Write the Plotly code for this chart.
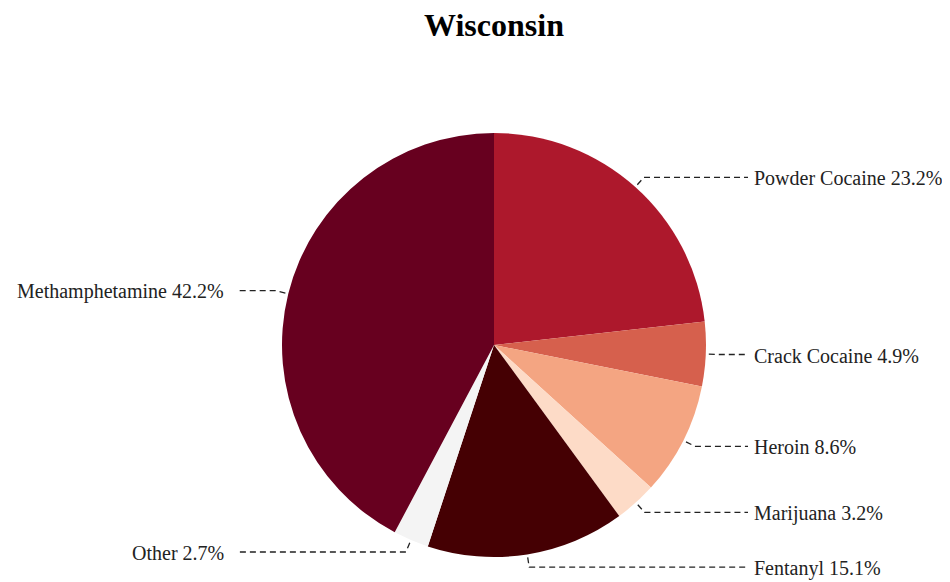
import math
import plotly.graph_objects as go

categories = ["Powder Cocaine", "Crack Cocaine", "Heroin", "Marijuana", "Fentanyl", "Other", "Methamphetamine"]
values = [23.2, 4.9, 8.6, 3.2, 15.1, 2.7, 42.2]
colors = ["#ad182c", "#d6604d", "#f4a582", "#fddbc7", "#450003", "#f4f4f4", "#67001f"]

OFF = 8  # page body margin
W, H = 950 - OFF, 582 - OFF
CX, CY, R = 494 - OFF, 345 - OFF, 212
LABEL_R = R + 13
FONT = "Liberation Serif, Times New Roman, serif"

fig = go.Figure()
fig.add_trace(go.Pie(
    labels=categories, values=values, sort=False, direction="clockwise", rotation=0,
    marker=dict(colors=colors, line=dict(width=0)),
    textinfo="none", hoverinfo="label+percent",
    domain=dict(x=[(CX - R) / W, (CX + R) / W], y=[(H - CY - R) / H, (H - CY + R) / H]),
    showlegend=False,
))

# invisible pixel axes for leader lines
fig.add_trace(go.Scatter(x=[0, W], y=[0, H], mode="markers", marker=dict(opacity=0),
                         hoverinfo="skip", showlegend=False))

total = sum(values)
cum = 0.0
for cat, v in zip(categories, values):
    mid = (cum + v / 2) / total * 2 * math.pi
    cum += v
    s, c = math.sin(mid), math.cos(mid)
    x0, y0 = CX + (R + 3) * s, CY - (R + 3) * c
    x1, y1 = CX + LABEL_R * s, CY - LABEL_R * c
    right = s >= 0
    xe = 748 - OFF if right else 236 - OFF
    fig.add_shape(type="path", xref="x", yref="y",
                  path=f"M {x0:.1f},{y0:.1f} L {x1:.1f},{y1:.1f} L {xe},{y1:.1f}",
                  line=dict(color="#222222", width=1.3, dash="6px,4px"))
    fig.add_annotation(x=(752 if right else 226) - OFF, y=y1 + 1, xref="x", yref="y",
                       text=f"{cat} {v:.1f}%", showarrow=False,
                       xanchor="left" if right else "right", yanchor="middle",
                       font=dict(family=FONT, size=20, color="#222222"))

fig.update_layout(
    width=W, height=H,
    margin=dict(l=0, r=0, t=0, b=0),
    paper_bgcolor="white", plot_bgcolor="rgba(0,0,0,0)",
    title=dict(text="<b>Wisconsin</b>", x=(494 - OFF) / W, xanchor="center", y=1 - (25 - OFF) / H, yanchor="middle",
               font=dict(family=FONT, size=32, color="#000000")),
    xaxis=dict(range=[0, W], visible=False, fixedrange=True),
    yaxis=dict(range=[H, 0], visible=False, fixedrange=True),
)

fig.write_html("out.html")
